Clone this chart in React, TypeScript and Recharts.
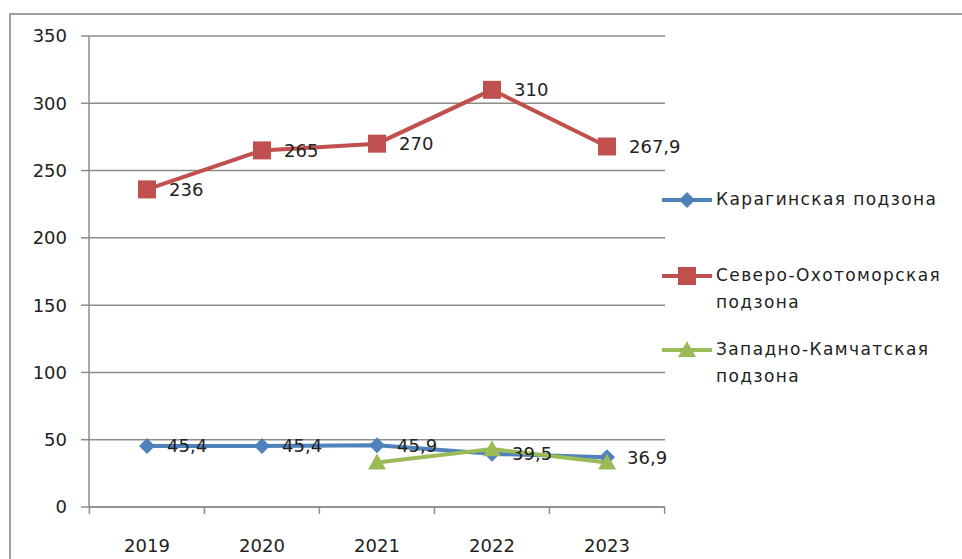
import React from 'react';
import { LineChart, Line, XAxis, YAxis, CartesianGrid, Legend, LabelList } from 'recharts';

const years = ['2019', '2020', '2021', '2022', '2023'];
const karaginskaya = [45.4, 45.4, 45.9, 39.5, 36.9];
const severoOkhotomorskaya = [236, 265, 270, 310, 267.9];
const zapadnoKamchatskaya: (number | null)[] = [null, null, 33, 43, 33];
const yTicks = [0, 50, 100, 150, 200, 250, 300, 350];
const seriesKeys = ['k', 's', 'z'];
const seriesNames = ['Карагинская подзона', 'Северо-Охотоморская подзона', 'Западно-Камчатская подзона'];
const legendLines = [['Карагинская подзона'], ['Северо-Охотоморская', 'подзона'], ['Западно-Камчатская', 'подзона']];

const data = years.map((y, i) => ({
  year: y,
  k: karaginskaya[i],
  s: severoOkhotomorskaya[i],
  z: zapadnoKamchatskaya[i],
}));

const FONT = '"DejaVu Sans", Verdana, sans-serif';
const BLUE = '#4F81BD';
const RED = '#C0504D';
const GREEN = '#9BBB59';
const COLORS = [BLUE, RED, GREEN];
const GRID = '#8c8c8c';

const Diamond = (props: any) => {
  const { cx, cy } = props;
  if (cx == null || cy == null || props.value == null) return <g />;
  const r = 8;
  return <path d={`M${cx},${cy - r}L${cx + r},${cy}L${cx},${cy + r}L${cx - r},${cy}Z`} fill={BLUE} />;
};
const Square = (props: any) => {
  const { cx, cy } = props;
  if (cx == null || cy == null || props.value == null) return <g />;
  const r = 9;
  return <rect x={cx - r} y={cy - r} width={2 * r} height={2 * r} fill={RED} />;
};
const Triangle = (props: any) => {
  const { cx, cy } = props;
  if (cx == null || cy == null || props.value == null) return <g />;
  return <path d={`M${cx},${cy - 9}L${cx + 9},${cy + 7}L${cx - 9},${cy + 7}Z`} fill={GREEN} />;
};

const fmt = (v: any) => (v == null ? '' : String(v).replace('.', ','));

const XTick = (props: any) => {
  const { x, y, payload, index, visibleTicksCount, width } = props;
  if (x == null || y == null) return <g />;
  const count = visibleTicksCount || years.length;
  const half = (width || 576) / count / 2;
  return (
    <g>
      <line x1={x - half} y1={y} x2={x - half} y2={y + 7} stroke={GRID} strokeWidth={1.5} />
      {index === count - 1 && <line x1={x + half} y1={y} x2={x + half} y2={y + 7} stroke={GRID} strokeWidth={1.5} />}
      <text x={x} y={y + 32} dy="0.71em" textAnchor="middle" fontFamily={FONT} fontSize={18} fill="#222">
        {payload.value}
      </text>
    </g>
  );
};

const legendIcon = (color: string, idx: number) => {
  let marker: React.ReactNode;
  if (idx === 0) marker = <path d="M27,3L35,11L27,19L19,11Z" fill={color} />;
  else if (idx === 1) marker = <rect x={18} y={2} width={18} height={18} fill={color} />;
  else marker = <path d="M27,2L36,18L18,18Z" fill={color} />;
  return (
    <svg width={54} height={22} style={{ display: 'block' }}>
      <line x1={2} y1={11} x2={52} y2={11} stroke={color} strokeWidth={4} />
      {marker}
    </svg>
  );
};

const itemTops = [0, 76, 150];

const renderLegend = (props: any) => {
  const payload = props.payload || [];
  return (
    <div style={{ position: 'relative', width: 300, height: 220, fontFamily: FONT }}>
      {seriesKeys.map((key, i) => {
        const p = payload.find((e: any) => e.dataKey === key);
        const color = (p && p.color) || COLORS[i];
        return (
          <div key={key} style={{ position: 'absolute', left: 0, top: itemTops[i], display: 'flex', alignItems: 'flex-start' }}>
            <div style={{ marginTop: 3 }}>{legendIcon(color, i)}</div>
            <div style={{ marginLeft: 2, fontSize: 17, lineHeight: '27px', color: '#222', letterSpacing: 1.4 }}>
              {legendLines[i].map((t, j) => (
                <div key={j}>{t}</div>
              ))}
            </div>
          </div>
        );
      })}
    </div>
  );
};

export default function App() {
  return (
    <div style={{ position: 'absolute', left: 0, top: 0, width: 962, height: 559, overflow: 'hidden', background: '#fff' }}>
      <div style={{ position: 'absolute', left: 9, top: 13, width: 1000, height: 600, border: '2px solid #a0a0a0', boxSizing: 'border-box' }} />
      <div style={{ position: 'absolute', left: 0, top: 0 }}>
        <LineChart width={962} height={559} data={data} margin={{ top: 36, right: 297, bottom: 0, left: 29 }}>
          <CartesianGrid vertical={false} stroke={GRID} strokeWidth={1.5} />
          <XAxis
            dataKey="year"
            height={52}
            padding={{ left: 58, right: 58 }}
            tickLine={false}
            tickSize={0}
            tickMargin={0}
            interval={0}
            axisLine={{ stroke: GRID, strokeWidth: 1.5 }}
            tick={<XTick />}
          />
          <YAxis
            domain={[0, 350]}
            ticks={yTicks}
            width={60}
            tickSize={8}
            tickMargin={14}
            axisLine={{ stroke: GRID, strokeWidth: 1.5 }}
            tickLine={{ stroke: GRID, strokeWidth: 1.5 }}
            tick={{ fontFamily: FONT, fontSize: 18, fill: '#222' }}
            interval={0}
          />
          <Legend
            layout="vertical"
            align="center"
            verticalAlign="middle"
            content={renderLegend}
            wrapperStyle={{ position: 'absolute', left: 660, top: 186, width: 300, height: 220 }}
          />
          <Line
            name={seriesNames[0]}
            dataKey="k"
            stroke={BLUE}
            strokeWidth={4}
            dot={<Diamond />}
            activeDot={false}
            isAnimationActive={false}
          >
            <LabelList dataKey="k" position="right" offset={20} formatter={fmt} style={{ fontFamily: FONT, fontSize: 18, fill: '#222' }} />
          </Line>
          <Line
            name={seriesNames[1]}
            dataKey="s"
            stroke={RED}
            strokeWidth={4}
            dot={<Square />}
            activeDot={false}
            isAnimationActive={false}
          >
            <LabelList dataKey="s" position="right" offset={22} formatter={fmt} style={{ fontFamily: FONT, fontSize: 18, fill: '#222' }} />
          </Line>
          <Line
            name={seriesNames[2]}
            dataKey="z"
            stroke={GREEN}
            strokeWidth={4}
            dot={<Triangle />}
            activeDot={false}
            isAnimationActive={false}
          />
        </LineChart>
      </div>
    </div>
  );
}
